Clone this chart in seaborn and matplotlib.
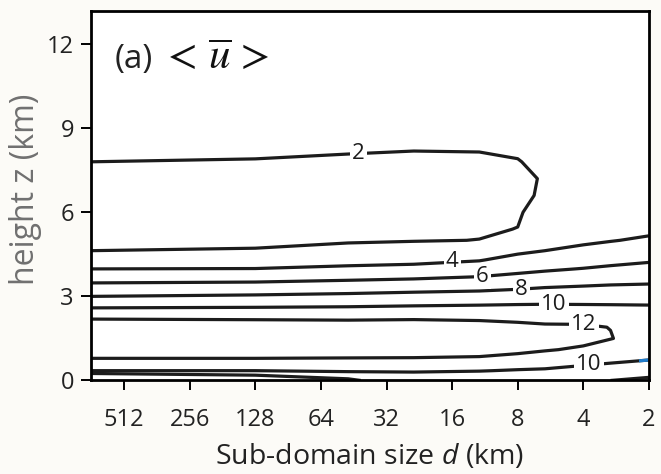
import numpy as np
import matplotlib
matplotlib.use("Agg")
import matplotlib.pyplot as plt
import seaborn as sns
from matplotlib.patches import Rectangle
from matplotlib.ticker import NullLocator

# Sub-domain sizes (km) where the sub-domain-mean zonal wind profile is sampled
sub_domain_km = [730, 128, 48, 24, 12, 8, 6, 4, 3, 2]

# Model heights (km)
height_km = [0.0, 0.25, 0.35, 0.55, 0.79, 1.1, 1.5, 1.9, 2.19, 2.59, 3.0, 3.48,
             3.98, 4.3, 4.63, 5.0, 5.4, 6.0, 6.6, 7.2, 7.8, 8.3, 9.5, 11.0, 13.2]

# <u-bar> profiles (m/s), one list per sub-domain size
u_730 = [7.0, 8.0, 10.0, 10.91, 12.0, 12.6, 13.0, 12.6, 12.0, 10.0, 8.0, 6.0,
         4.0, 3.02, 2.0, 1.78, 1.55, 1.2, 1.47, 1.73, 2.0, 2.18, 2.6, 2.84, 3.2]
u_128 = [7.5, 8.16, 10.0, 10.91, 12.0, 12.6, 13.0, 12.6, 11.95, 10.09, 8.23, 6.13,
         4.04, 3.06, 2.06, 1.81, 1.58, 1.25, 1.49, 1.72, 1.96, 2.15, 2.6, 2.84, 3.2]
u_48 = [7.9, 8.32, 10.9, 11.3, 11.97, 12.6, 13.0, 12.6, 11.91, 10.17, 8.43, 6.38,
        4.36, 3.33, 2.38, 1.87, 1.66, 1.35, 1.53, 1.72, 1.90, 2.08, 2.55, 2.81, 3.2]
u_24 = [8.3, 9.4, 10.6, 11.3, 11.95, 12.6, 13.0, 12.6, 11.96, 10.29, 8.64, 6.58,
        4.55, 3.49, 2.56, 1.94, 1.79, 1.57, 1.60, 1.75, 1.90, 2.03, 2.45, 2.75, 3.2]
u_12 = [8.7, 9.5, 10.1, 11.0, 11.9, 12.4, 12.9, 12.5, 11.89, 10.38, 8.78, 6.83,
        4.97, 3.89, 3.01, 2.01, 1.92, 1.79, 1.73, 1.83, 1.93, 2.03, 2.4, 2.72, 3.2]
u_8 = [8.8, 9.5, 9.85, 10.7, 11.65, 12.3, 12.7, 12.35, 11.77, 10.43, 8.94, 7.15,
       5.45, 4.52, 3.69, 2.92, 2.01, 1.93, 1.86, 1.91, 1.98, 2.07, 2.35, 2.69, 3.2]
u_6 = [8.7, 9.4, 9.75, 10.5, 11.4, 12.1, 12.55, 12.25, 11.61, 10.42, 9.08, 7.43,
       5.73, 4.88, 4.0, 3.45, 2.85, 2.25, 2.08, 2.03, 2.1, 2.17, 2.35, 2.69, 3.2]
u_4 = [8.4, 9.1, 9.4, 10.05, 10.9, 11.85, 12.3, 12.15, 11.72, 10.36, 9.14, 7.65,
       6.06, 5.22, 4.36, 3.72, 3.33, 2.7, 2.56, 2.42, 2.36, 2.37, 2.4, 2.72, 3.2]
u_3 = [8.0, 8.8, 9.1, 9.8, 10.5, 11.3, 12.05, 11.98, 11.28, 10.31, 9.19, 7.79,
       6.30, 5.47, 4.67, 3.92, 3.55, 3.0, 2.8, 2.6, 2.49, 2.48, 2.45, 2.75, 3.2]
u_2 = [7.6, 8.5, 8.8, 9.4, 10.2, 10.9, 11.5, 11.4, 11.0, 10.25, 9.22, 7.89,
       6.58, 5.78, 5.08, 4.2, 3.7, 3.33, 3.01, 2.84, 2.66, 2.58, 2.5, 2.78, 3.2]

contour_levels = [2, 4, 6, 8, 10, 12]
size_ticks = [512, 256, 128, 64, 32, 16, 8, 4, 2]
height_ticks = [0, 3, 6, 9, 12]

# where each contour label sits: (sub-domain size, height)
label_spots = [(43.0, 8.1), (16.0, 4.23), (10.7, 3.69), (7.6, 3.26),
               (5.4, 2.73), (4.0, 2.0), (3.4, 0.55)]

sns.set_theme(style="ticks")
plt.rcParams["font.family"] = ["Open Sans", "DejaVu Sans"]
plt.rcParams["mathtext.fontset"] = "custom"
plt.rcParams["mathtext.it"] = "Open Sans:italic"
plt.rcParams["mathtext.rm"] = "Open Sans"

ink = "#1c1c1c"
fig = plt.figure(figsize=(6.61, 4.74), dpi=100, facecolor="#fcfbf7")
ax = fig.add_axes([0.137, 0.1973, 0.8447, 0.7795])
ax.set_facecolor("white")

U = np.column_stack([u_730, u_128, u_48, u_24, u_12, u_8, u_6, u_4, u_3, u_2])

cs = ax.contour(sub_domain_km, height_km, U, levels=contour_levels,
                colors=ink, linewidths=2.3)

# short highlighted stretch of the lower 10 m/s isotach at the smallest sub-domains
hl = ax.contour(sub_domain_km, height_km, U, levels=[10],
                colors="#1f7ccc", linewidths=2.3)
hl.set_clip_path(Rectangle((2.0, 0.4), 0.22, 0.7, transform=ax.transData))

labels = ax.clabel(cs, fmt="%d", fontsize=16, inline=False, colors=ink,
                   manual=label_spots)
for t in labels:
    t.set_rotation(0)
    t.set_bbox(dict(facecolor="white", edgecolor="none", pad=1.6))
    t.set_zorder(5)

ax.set_xscale("log", base=2)
ax.set_xlim(730, 2)
ax.set_ylim(0, 13.18)
ax.set_xticks(size_ticks, labels=[str(v) for v in size_ticks])
ax.xaxis.set_minor_locator(NullLocator())
ax.set_yticks(height_ticks, labels=[str(v) for v in height_ticks])

for side in ["left", "right", "top", "bottom"]:
    ax.spines[side].set_visible(True)
    ax.spines[side].set_color("black")
    ax.spines[side].set_linewidth(2.0)
    ax.spines[side].set_zorder(6)

ax.tick_params(axis="both", direction="out", length=7, width=1.4,
               color="black", labelsize=17, labelcolor="#222222")
ax.tick_params(axis="x", pad=13)
ax.tick_params(axis="y", pad=5)

ax.set_xlabel(r"Sub-domain size $\mathit{d}$ (km)", fontsize=20.5,
              color="#222222", labelpad=7)
ax.set_ylabel("height z (km)", fontsize=23, color="#707070")
ax.yaxis.set_label_coords(-0.087, 0.517)

ax.text(0.044, 0.846, "(a)", transform=ax.transAxes, fontsize=24,
        color="#222222", va="baseline", ha="left")
ax.text(0.127, 0.846, r"$<\,\overline{u}\,>$", transform=ax.transAxes,
        fontsize=31, color="#111111", va="baseline", ha="left",
        math_fontfamily="stix")

fig.savefig("out.png", dpi=100, facecolor=fig.get_facecolor())
